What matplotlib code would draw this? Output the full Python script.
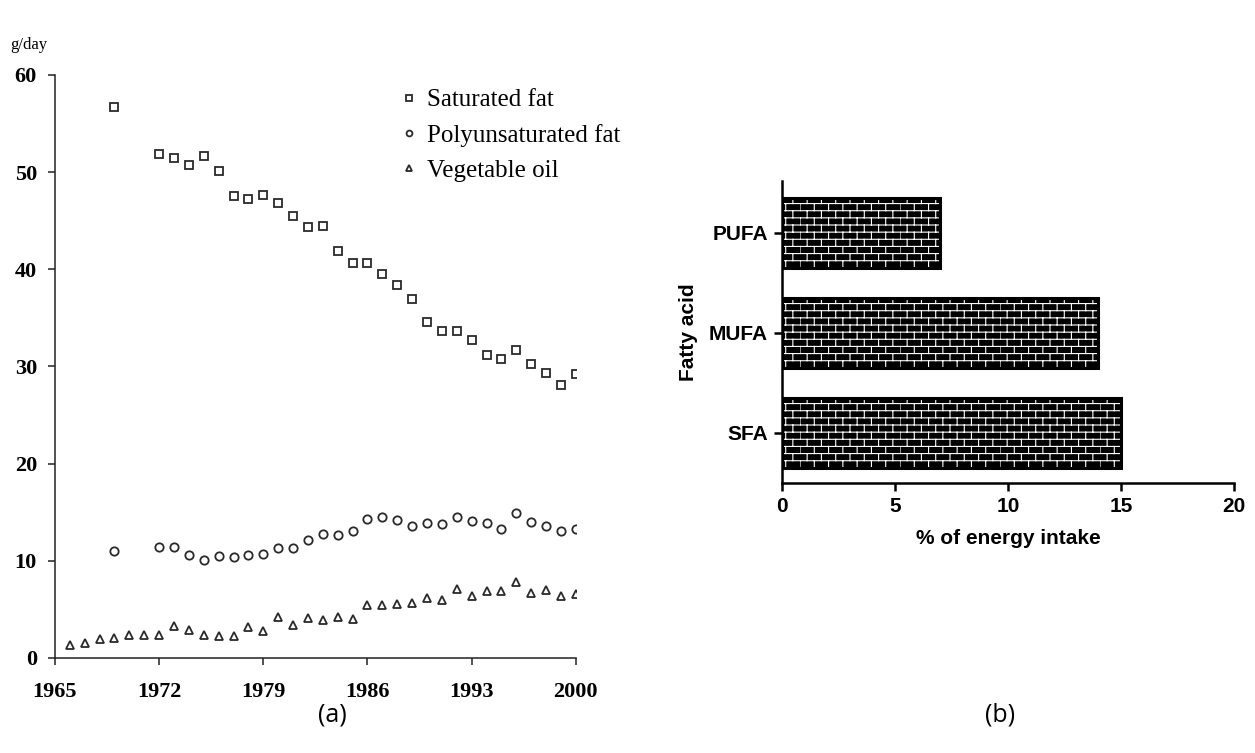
import warnings
import numpy as np
import matplotlib
matplotlib.use('Agg')
import matplotlib.pyplot as plt
import matplotlib.hatch as mhatch
from matplotlib.path import Path

warnings.filterwarnings('ignore')

# ---- data, panel (a) ----
years_fat = [1969] + list(range(1972, 2001))
saturated = [56.7, 51.9, 51.5, 50.7, 51.7, 50.1, 47.5, 47.2, 47.7, 46.8,
             45.5, 44.4, 44.5, 41.9, 40.6, 40.6, 39.5, 38.4, 36.9, 34.6,
             33.7, 33.7, 32.7, 31.2, 30.8, 31.7, 30.3, 29.3, 28.1, 29.2]
polyunsat = [11.0, 11.45, 11.45, 10.6, 10.1, 10.5, 10.4, 10.6, 10.7, 11.3,
             11.35, 12.1, 12.8, 12.65, 13.1, 14.3, 14.5, 14.2, 13.6, 13.9,
             13.8, 14.5, 14.1, 13.9, 13.3, 14.9, 14.0, 13.6, 13.1, 13.3]
years_oil = list(range(1966, 2001))
veg_oil = [1.3, 1.5, 1.95, 2.1, 2.4, 2.4, 2.35, 3.3, 2.9, 2.4,
           2.3, 2.3, 3.2, 2.8, 4.2, 3.4, 4.1, 3.9, 4.2, 4.0,
           5.5, 5.5, 5.6, 5.7, 6.2, 6.0, 7.1, 6.4, 6.9, 6.9,
           7.85, 6.7, 7.0, 6.4, 6.6]
year_ticks = [1965, 1972, 1979, 1986, 1993, 2000]
gday_ticks = [0, 10, 20, 30, 40, 50, 60]

# ---- data, panel (b) ----
acids = ['SFA', 'MUFA', 'PUFA']
energy = [15, 14, 7]
energy_ticks = [0, 5, 10, 15, 20]


class BrickHatch(mhatch.HatchPatternBase):
    # white mortar lines, rows offset by half a brick
    def __init__(self, hatch, density):
        self.rows = 14 if 'b' in hatch else 0
        self.cols = 7
        self.num_vertices = (self.rows + self.rows * self.cols) * 2

    def set_vertices_and_codes(self, vertices, codes):
        k = 0
        h = 1.0 / self.rows
        for i in range(self.rows):
            y = (i + 0.5) * h
            vertices[k] = (0, y)
            vertices[k + 1] = (1, y)
            codes[k] = Path.MOVETO
            codes[k + 1] = Path.LINETO
            k += 2
            off = 0.5 / self.cols if i % 2 else 0.0
            for j in range(self.cols):
                x = j / self.cols + off
                vertices[k] = (x, y)
                vertices[k + 1] = (x, y + h)
                codes[k] = Path.MOVETO
                codes[k + 1] = Path.LINETO
                k += 2


mhatch._hatch_types.append(BrickHatch)
plt.rcParams['hatch.linewidth'] = 0.8

serif = 'Liberation Serif'
sans = 'Liberation Sans'

fig = plt.figure(figsize=(12.55, 7.53), dpi=100)

# ---------------- panel (a) ----------------
ax1 = fig.add_axes([0.0438, 0.1262, 0.415, 0.7742])
mk = dict(linestyle='none', markerfacecolor='none', markeredgecolor='#2a2a2a',
          markeredgewidth=1.3, markersize=6)
ax1.plot(years_fat, saturated, marker='s', label='Saturated fat', **mk)
ax1.plot(years_fat, polyunsat, marker='o', label='Polyunsaturated fat', **mk)
ax1.plot(years_oil, veg_oil, marker='^', label='Vegetable oil', **mk)
ax1.set_xlim(1965, 2000)
ax1.set_ylim(0, 60)
ax1.set_xticks(year_ticks)
ax1.set_yticks(gday_ticks)
for s in ['top', 'right']:
    ax1.spines[s].set_visible(False)
for s in ['left', 'bottom']:
    ax1.spines[s].set_linewidth(1.1)
    ax1.spines[s].set_color('#222222')
ax1.tick_params(direction='out', length=5, width=1.1, color='#222222', pad=8)
for lab in ax1.get_xticklabels() + ax1.get_yticklabels():
    lab.set_fontfamily(serif)
    lab.set_fontweight('bold')
    lab.set_fontsize(16)
ax1.tick_params(axis='x', pad=12)
fig.text(0.008, 0.94, 'g/day', family=serif, fontsize=12, va='center')
ax1.legend(loc='upper left', bbox_to_anchor=(0.302, 0.912),
           bbox_transform=fig.transFigure, frameon=False, markerscale=0.7,
           handlelength=0.6, handletextpad=0.4, labelspacing=0.5,
           prop=dict(family=serif, size=18))
fig.text(0.2645, 0.05, '(a)', family='Open Sans', fontsize=18,
         ha='center', va='center')

# ---------------- panel (b) ----------------
ax2 = fig.add_axes([0.6231, 0.359, 0.3602, 0.4007])
ypos = np.arange(len(acids))
ax2.barh(ypos, energy, height=0.7, color='black', edgecolor='white',
         linewidth=0, hatch='b')
ax2.barh(ypos, energy, height=0.7, fill=False, edgecolor='black', linewidth=2.2)
ax2.set_xlim(0, 20)
ax2.set_ylim(-0.5, 2.52)
ax2.set_xticks(energy_ticks)
ax2.set_yticks(ypos)
ax2.set_yticklabels(acids)
for s in ['top', 'right']:
    ax2.spines[s].set_visible(False)
for s in ['left', 'bottom']:
    ax2.spines[s].set_linewidth(1.8)
ax2.tick_params(direction='out', length=6, width=1.8, pad=4)
for lab in ax2.get_xticklabels() + ax2.get_yticklabels():
    lab.set_fontfamily(sans)
    lab.set_fontweight('bold')
    lab.set_fontsize(15)
ax2.set_xlabel('% of energy intake', family=sans, fontweight='bold',
               fontsize=15, labelpad=10)
ax2.set_ylabel('Fatty acid', family=sans, fontweight='bold', fontsize=15,
               labelpad=8)
fig.text(0.797, 0.05, '(b)', family='Open Sans', fontsize=18,
         ha='center', va='center')

fig.savefig('out.png', dpi=100)
